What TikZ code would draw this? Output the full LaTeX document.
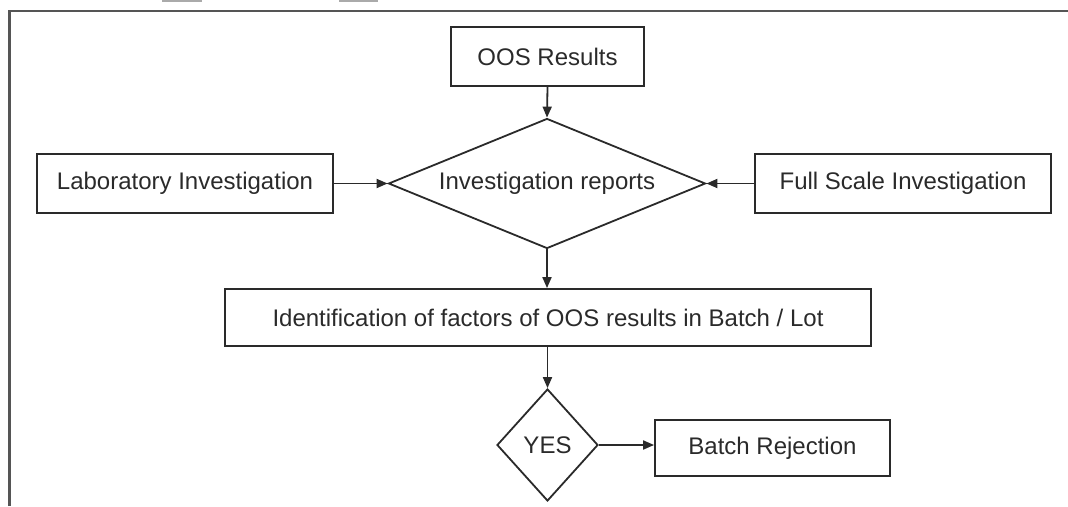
\documentclass[tikz,border=0pt]{standalone}
\usepackage{fontspec}
\setmainfont{Liberation Sans}
\usetikzlibrary{shapes.geometric,arrows.meta}

\definecolor{ink}{HTML}{2A2A2A}
\definecolor{framegray}{HTML}{555555}
\definecolor{markgray}{HTML}{AAAAAA}

\tikzset{
  x=1pt, y=-1pt,
  every node/.style={font=\fontsize{24}{28}\selectfont, text=ink},
  box/.style={draw=ink, line width=1.8pt, rectangle, inner sep=0pt},
  decision/.style={draw=ink, line width=1.8pt, diamond, inner sep=0pt},
  flow/.style={draw=ink, line width=1.8pt, -{Triangle[length=11pt,width=9pt]}},
  frameline/.style={draw=framegray, line width=2.7pt}
}

\begin{document}
\begin{tikzpicture}
  \useasboundingbox (0,0) rectangle (1068,506);

  % page frame and the clipped marks above it
  \draw[frameline] (9.5,506) -- (9.5,11) -- (1068,11);
  \fill[markgray] (162,0) rectangle (202,2);
  \fill[markgray] (339,0) rectangle (378,2);

  % process boxes and decisions
  \node[box, minimum width=193pt, minimum height=59pt] (oos) at (547.5,56.5) {OOS Results};
  \node[box, minimum width=296pt, minimum height=59pt] (lab) at (185,183.5) {Laboratory Investigation};
  \node[box, minimum width=296pt, minimum height=59pt] (full) at (903,183.5) {Full Scale Investigation};
  \node[decision, aspect=2.44, minimum width=317pt, minimum height=130pt] (rep) at (547,183.5) {Investigation reports};
  \node[box, minimum width=646pt, minimum height=57pt] (ident) at (548,317.5) {Identification of factors of OOS results in Batch / Lot};
  \node[decision, aspect=0.9, minimum width=101pt, minimum height=112pt] (yes) at (547.5,445) {YES};
  \node[box, minimum width=235pt, minimum height=56pt] (batch) at (772.5,448) {Batch Rejection};

  % connectors
  \draw[flow] (oos.south) -- (rep.north);
  \draw[flow] (lab.east) -- (rep.west);
  \draw[flow] (full.west) -- (rep.east);
  \draw[flow] (rep.south) -- (ident.north -| rep.south);
  \draw[flow] (ident.south -| yes.north) -- (yes.north);
  \draw[flow] (yes.east) -- (yes.east -| batch.west);
\end{tikzpicture}
\end{document}
